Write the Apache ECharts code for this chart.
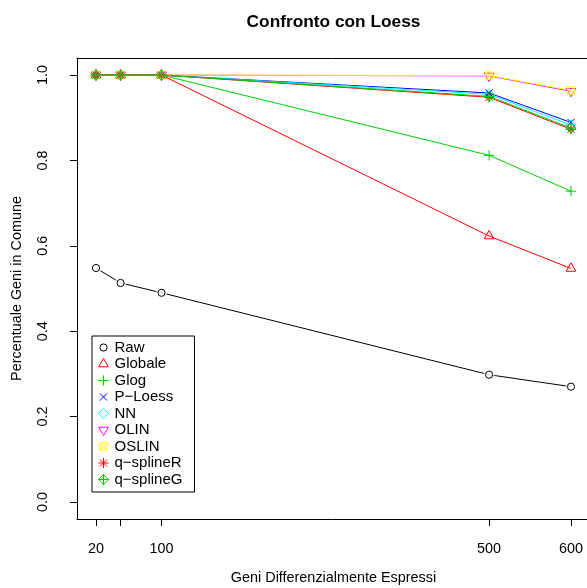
<!DOCTYPE html>
<html>
<head>
<meta charset="utf-8">
<script src="https://cdn.jsdelivr.net/npm/echarts@6/dist/echarts.min.js"></script>
<style>
  html, body { margin: 0; padding: 0; background: #ffffff; }
  #chart { width: 587px; height: 588px; }
</style>
</head>
<body>
<div id="chart"></div>
<script>
// Number of differentially expressed genes (x) and share of common genes (y)
const geneCounts = [20, 50, 100, 500, 600];
const xTickValues = [20, 50, 100, 500, 600];
const xLabelValues = [20, 100, 500, 600];
const yTickValues = [0, 0.2, 0.4, 0.6, 0.8, 1.0];

const methodNames = ['Raw', 'Globale', 'Glog', 'P\u2212Loess', 'NN', 'OLIN', 'OSLIN', 'q\u2212splineR', 'q\u2212splineG'];

const rawValues       = [0.548, 0.513, 0.490, 0.298, 0.270];
const globaleValues   = [1.000, 1.000, 1.000, 0.623, 0.547];
const glogValues      = [1.000, 1.000, 1.000, 0.812, 0.728];
const ploessValues    = [1.000, 1.000, 1.000, 0.958, 0.889];
const nnValues        = [1.000, 1.000, 1.000, 0.955, 0.883];
const olinValues      = [1.000, 1.000, 1.000, 0.998, 0.962];
const oslinValues     = [1.000, 1.000, 1.000, 0.999, 0.964];
const qsplineRValues  = [1.000, 1.000, 1.000, 0.948, 0.873];
const qsplineGValues  = [1.000, 1.000, 1.000, 0.950, 0.876];

const methodValues = [rawValues, globaleValues, glogValues, ploessValues, nnValues,
                      olinValues, oslinValues, qsplineRValues, qsplineGValues];

const methodColors = ['#000000', '#ff0000', '#00cd00', '#0000ff', '#00ffff',
                      '#ff00ff', '#ffff00', '#ff0000', '#00cd00'];

// Plotting symbols drawn in a 12x12 box centred on the point
const box = 'M0,0M12,12';
const methodSymbols = [
  'path://' + box + 'M9.6,6A3.6,3.6,0,1,1,2.4,6A3.6,3.6,0,1,1,9.6,6Z',           // circle
  'path://' + box + 'M6,0.4L10.85,8.8L1.15,8.8Z',                                 // triangle up
  'path://' + box + 'M0.9,6L11.1,6M6,0.9L6,11.1',                                 // plus
  'path://' + box + 'M2.4,2.4L9.6,9.6M2.4,9.6L9.6,2.4',                           // cross
  'path://' + box + 'M6,0.9L11.1,6L6,11.1L0.9,6Z',                                // diamond
  'path://' + box + 'M6,11.6L10.85,3.2L1.15,3.2Z',                                // triangle down
  'path://' + box + 'M2.4,2.4L9.6,2.4L9.6,9.6L2.4,9.6ZM2.4,2.4L9.6,9.6M2.4,9.6L9.6,2.4', // square with cross
  'path://' + box + 'M2.4,2.4L9.6,9.6M2.4,9.6L9.6,2.4M0.9,6L11.1,6M6,0.9L6,11.1', // asterisk
  'path://' + box + 'M6,0.9L11.1,6L6,11.1L0.9,6ZM0.9,6L11.1,6M6,0.9L6,11.1'       // diamond with plus
];

const FONT = '"Liberation Sans", Arial, Helvetica, sans-serif';
const FS = 14.4;
const CLEAR = 'rgba(0,0,0,0)';

function pairs(values) {
  return geneCounts.map((g, i) => [g, values[i]]);
}

// White halo under the Raw points so its line stops short of each circle
const series = [{
  name: 'rawGap',
  type: 'scatter',
  z: 2,
  silent: true,
  symbol: 'circle',
  symbolSize: 11,
  itemStyle: { color: '#ffffff', borderWidth: 0 },
  data: pairs(rawValues),
  animation: false
}];

methodNames.forEach((name, i) => {
  series.push({
    name: name,
    type: 'line',
    z: 2,
    data: pairs(methodValues[i]),
    symbol: methodSymbols[i],
    symbolSize: 12,
    showSymbol: true,
    showAllSymbol: true,
    lineStyle: { color: methodColors[i], width: 1 },
    itemStyle: { color: CLEAR, borderColor: methodColors[i], borderWidth: 1 },
    emphasis: { disabled: true },
    animation: false
  });
});

const chart = echarts.init(document.getElementById('chart'), null, { renderer: 'canvas' });

chart.setOption({
  backgroundColor: '#ffffff',
  animation: false,
  title: {
    text: 'Confronto con Loess',
    left: 333.5,
    textAlign: 'center',
    top: 14,
    padding: 0,
    textStyle: { fontFamily: FONT, fontSize: 17.3, fontWeight: 'bold', color: '#000' }
  },
  grid: {
    left: 77, top: 58, width: 513, height: 461,
    show: false,
    containLabel: false,
    outerBoundsMode: 'none'
  },
  legend: {
    orient: 'vertical',
    left: 92,
    top: 336,
    padding: [4, 12, 5, 5],
    itemWidth: 12,
    itemHeight: 12,
    itemGap: 1.5,
    borderColor: '#000',
    borderWidth: 1,
    borderRadius: 0,
    backgroundColor: '#ffffff',
    selectedMode: false,
    itemStyle: { borderWidth: 1 },
    textStyle: { fontFamily: FONT, fontSize: 15, color: '#000', lineHeight: 15 },
    data: methodNames.map((name, i) => ({
      name: name,
      icon: methodSymbols[i],
      itemStyle: { color: CLEAR, borderColor: methodColors[i], borderWidth: 1 }
    }))
  },
  xAxis: [{
    type: 'value',
    min: -3.2,
    max: 623.2,
    position: 'bottom',
    name: 'Geni Differenzialmente Espressi',
    nameLocation: 'middle',
    nameGap: 52,
    nameTextStyle: { fontFamily: FONT, fontSize: FS, color: '#000' },
    axisLine: { show: true, onZero: false, lineStyle: { color: '#000', width: 1 } },
    axisTick: { show: true, inside: false, length: 7, customValues: xTickValues,
                lineStyle: { color: '#000', width: 1 } },
    axisLabel: { show: true, margin: 23, customValues: xLabelValues,
                 fontFamily: FONT, fontSize: FS, color: '#000',
                 formatter: v => String(v) },
    splitLine: { show: false }
  }, {
    type: 'value',
    min: -3.2,
    max: 623.2,
    position: 'top',
    axisLine: { show: true, onZero: false, lineStyle: { color: '#000', width: 1 } },
    axisTick: { show: false },
    axisLabel: { show: false },
    splitLine: { show: false }
  }],
  yAxis: {
    type: 'value',
    min: -0.04,
    max: 1.04,
    name: 'Percentuale Geni in Comune',
    nameLocation: 'middle',
    nameGap: 53,
    nameTextStyle: { fontFamily: FONT, fontSize: FS, color: '#000' },
    axisLine: { show: true, onZero: false, lineStyle: { color: '#000', width: 1 } },
    axisTick: { show: true, inside: false, length: 7, customValues: yTickValues,
                lineStyle: { color: '#000', width: 1 } },
    axisLabel: { show: true, rotate: 90, margin: 27, customValues: yTickValues,
                 fontFamily: FONT, fontSize: FS, color: '#000',
                 formatter: v => Number(v).toFixed(1) },
    splitLine: { show: false }
  },
  series: series
});
</script>
</body>
</html>
